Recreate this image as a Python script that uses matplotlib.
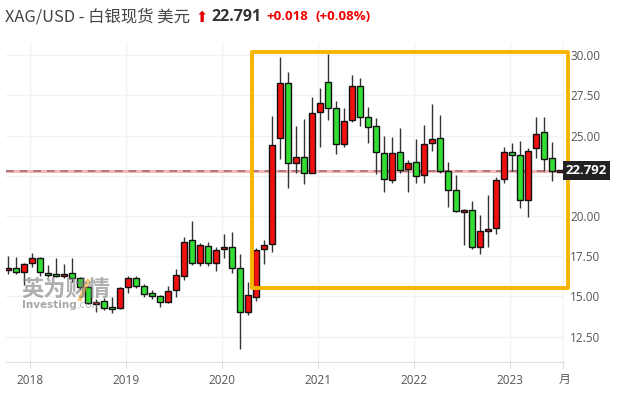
import numpy as np
import matplotlib
matplotlib.use('Agg')
import matplotlib.pyplot as plt
from matplotlib.patches import Rectangle
from matplotlib.lines import Line2D

# === Monthly XAG/USD candles, Oct 2017 .. Jul 2023 ===
opens = [16.65, 16.75, 16.50,
         17.06, 17.37, 16.46, 16.40, 16.27, 16.46, 16.13, 15.57, 14.55, 14.74, 14.35, 14.27,
         15.57, 16.13, 15.65, 15.20, 15.01, 14.64, 15.39, 16.29, 18.49, 17.06, 18.12, 17.06,
         17.93, 18.06, 16.75, 14.02, 14.99, 17.93, 18.26, 24.83, 28.26, 23.27, 23.65, 22.69,
         26.44, 28.30, 26.69, 24.45, 25.94, 28.06, 26.13, 25.57, 23.89, 22.22, 23.96, 22.90,
         23.33, 22.53, 24.52, 24.83, 22.78, 21.60, 20.23, 20.35, 18.06, 19.05, 19.24, 22.28,
         23.96, 23.77, 20.99, 24.20, 25.20, 23.58, 22.75]
highs = [17.50, 17.43, 17.10,
         17.72, 17.43, 16.96, 17.37, 17.00, 17.37, 16.23, 15.65, 14.82, 14.89, 14.95, 15.57,
         16.27, 16.27, 15.76, 15.40, 15.09, 15.65, 16.71, 18.68, 19.69, 18.34, 18.37, 18.09,
         18.88, 18.99, 17.62, 15.88, 17.99, 18.51, 26.19, 29.86, 28.93, 25.59, 26.01, 27.41,
         27.93, 30.04, 27.14, 26.69, 28.76, 28.55, 26.80, 26.07, 24.95, 24.89, 25.45, 23.46,
         24.76, 25.63, 26.94, 26.25, 23.33, 22.53, 20.42, 20.91, 20.04, 21.29, 22.40, 24.31,
         24.55, 24.64, 24.20, 26.13, 26.13, 24.58, 22.85]
lows = [16.40, 16.38, 15.71,
        16.85, 16.29, 16.23, 16.23, 16.17, 15.92, 15.40, 14.53, 14.06, 14.16, 13.96, 14.20,
        15.24, 15.50, 14.99, 14.82, 14.33, 14.58, 14.95, 16.02, 16.96, 16.91, 16.91, 16.58,
        17.37, 16.44, 11.72, 13.85, 14.74, 17.00, 17.78, 23.52, 21.72, 22.65, 21.99, 22.65,
        24.27, 25.96, 23.83, 24.27, 25.82, 25.57, 24.55, 22.59, 21.47, 22.03, 22.69, 21.47,
        22.05, 22.05, 24.02, 22.65, 20.54, 20.23, 18.18, 17.95, 17.62, 18.06, 18.86, 22.07,
        22.80, 20.48, 19.92, 23.58, 22.80, 22.17, 22.72]
closes = [16.77, 16.50, 17.02,
          17.37, 16.50, 16.32, 16.27, 16.40, 16.13, 15.61, 14.62, 14.68, 14.27, 14.20, 15.51,
          16.13, 15.65, 15.17, 15.01, 14.64, 15.34, 16.34, 18.37, 17.06, 18.18, 17.06, 17.87,
          18.06, 16.75, 14.02, 15.07, 17.87, 18.20, 24.39, 28.26, 23.27, 23.65, 22.65, 26.38,
          27.00, 26.69, 24.45, 25.88, 28.06, 26.13, 25.51, 23.96, 22.28, 23.89, 22.84, 23.27,
          22.47, 24.45, 24.76, 22.78, 21.60, 20.29, 20.35, 18.06, 19.05, 19.17, 22.24, 23.96,
          23.79, 20.99, 24.06, 25.07, 23.52, 22.79, 22.79]
first_month = -3  # Oct 2017, months counted from Jan 2018

years = ['2018', '2019', '2020', '2021', '2022', '2023']
price_ticks = [12.5, 15.0, 17.5, 20.0, 25.0, 27.5, 30.0]
last_price = 22.792

title_main = 'XAG/USD - 白银现货 美元'
title_price = '22.791'
title_change = '+0.018'
title_pct = '(+0.08%)'

# === Colours ===
up_col = '#f01010'
down_col = '#33dd33'
grid_col = '#f2f2f2'
text_col = '#555555'
box_col = '#f7b500'

W, H = 622, 399
fig = plt.figure(figsize=(W / 100, H / 100), dpi=100)
ax_l, ax_r, ax_t, ax_b = 6, 564, 42, 362
ax = fig.add_axes([ax_l / W, 1 - ax_b / H, (ax_r - ax_l) / W, (ax_b - ax_t) / H])

xs = np.arange(len(opens)) + first_month
ax.set_xlim(-3.25, 66.5)
ax.set_ylim(10.93, 30.81)

# grid
for v in [12.5, 15, 17.5, 20, 22.5, 25, 27.5, 30]:
    ax.axhline(v, color=grid_col, lw=1, zorder=0)
year_pos = [12 * i - 0.3 for i in range(len(years))]
for p in year_pos + [66.4]:
    ax.axvline(p, color=grid_col, lw=1, zorder=0)

# candles
bw = 0.72
for x, o, h, l, c in zip(xs, opens, highs, lows, closes):
    ax.vlines(x, l, h, color='#333333', lw=1, zorder=2)
    col = up_col if c >= o else down_col
    bot = min(o, c)
    ht = max(abs(c - o), 0.12)
    ax.add_patch(Rectangle((x - bw / 2, bot), bw, ht, facecolor=col,
                           edgecolor='#111111', lw=1, zorder=3))

# last price line
ax.axhline(last_price, color='#f5b8b8', lw=2.2, zorder=1)
ax.axhline(last_price, color='#b07878', lw=1.4, dashes=(4, 3), zorder=1)

# highlight box
ax.add_patch(Rectangle((27.5, 15.53), 67.0 - 27.5, 30.16 - 15.53, fill=False,
                       edgecolor=box_col, lw=2.8, zorder=5, clip_on=False,
                       joinstyle='round'))

# axes styling
for s in ['top', 'left', 'right']:
    ax.spines[s].set_visible(False)
ax.spines['bottom'].set_color('#dddddd')
ax.yaxis.tick_right()
ax.set_yticks(price_ticks)
ax.set_yticklabels([f'{v:.2f}' for v in price_ticks])
ax.tick_params(axis='y', length=0, pad=4.5, labelsize=8.5, labelcolor=text_col)
ax.set_xticks(year_pos + [66.4])
ax.set_xticklabels(years + [''])
ax.tick_params(axis='x', length=4, color='#dddddd', pad=5, labelsize=8.5,
               labelcolor=text_col)
for lab in ax.get_xticklabels() + ax.get_yticklabels():
    lab.set_family('Open Sans')
fig.text(559 / W, 1 - 379 / H, '月', family=['Noto Sans CJK SC'], fontsize=8.5,
         color=text_col, va='center', ha='left')

# last price label
fig.text(566 / W, 1 - 170.5 / H, f'{last_price:.3f}', family='Open Sans',
         fontsize=9.5, fontweight='bold', color='white', va='center', ha='left',
         bbox=dict(boxstyle='square,pad=0.22', fc='#222222', ec='none'), zorder=10)

# watermark
fig.text(21 / W, 1 - 289 / H, '英为财情', family=['Noto Sans CJK SC'], fontsize=16,
         fontweight='bold', color='#7a7a7a', alpha=0.6, va='center', ha='left', zorder=9)
fig.add_artist(Line2D([80 / W, 88 / W], [1 - 299 / H, 1 - 281 / H], color='#f5a623',
                      lw=3, alpha=0.6, zorder=9))
inv = fig.text(22 / W, 1 - 305 / H, 'Investing', family='DejaVu Sans', fontsize=7.5,
               fontweight='bold', color='#7a7a7a', alpha=0.65, va='center', ha='left',
               zorder=9)
fig.canvas.draw()
inv_right = inv.get_window_extent().x1
fig.text(inv_right / W, 1 - 305 / H, '.com', family='DejaVu Sans', fontsize=7.5,
         color='#8a8a8a', alpha=0.6, va='center', ha='left', zorder=9)

# title
ty = 1 - 17 / H
fig.text(5 / W, ty, title_main, family=['Noto Sans CJK SC', 'DejaVu Sans'], fontsize=11.8,
         color='#444444', va='center', ha='left')
fig.text(195 / W, ty, '⬆', family='DejaVu Sans', fontsize=10.5, color='#e00000',
         va='center', ha='left')
fig.text(211 / W, ty, title_price, family='Open Sans', fontsize=11.5, fontweight='bold',
         color='#333333', va='center', ha='left')
fig.text(266 / W, ty, title_change, family='Open Sans', fontsize=9.5, fontweight='bold',
         color='#ee0000', va='center', ha='left')
fig.text(316 / W, ty, title_pct, family='Open Sans', fontsize=9.5, fontweight='bold',
         color='#ee0000', va='center', ha='left')

fig.savefig('out.png', dpi=100)
